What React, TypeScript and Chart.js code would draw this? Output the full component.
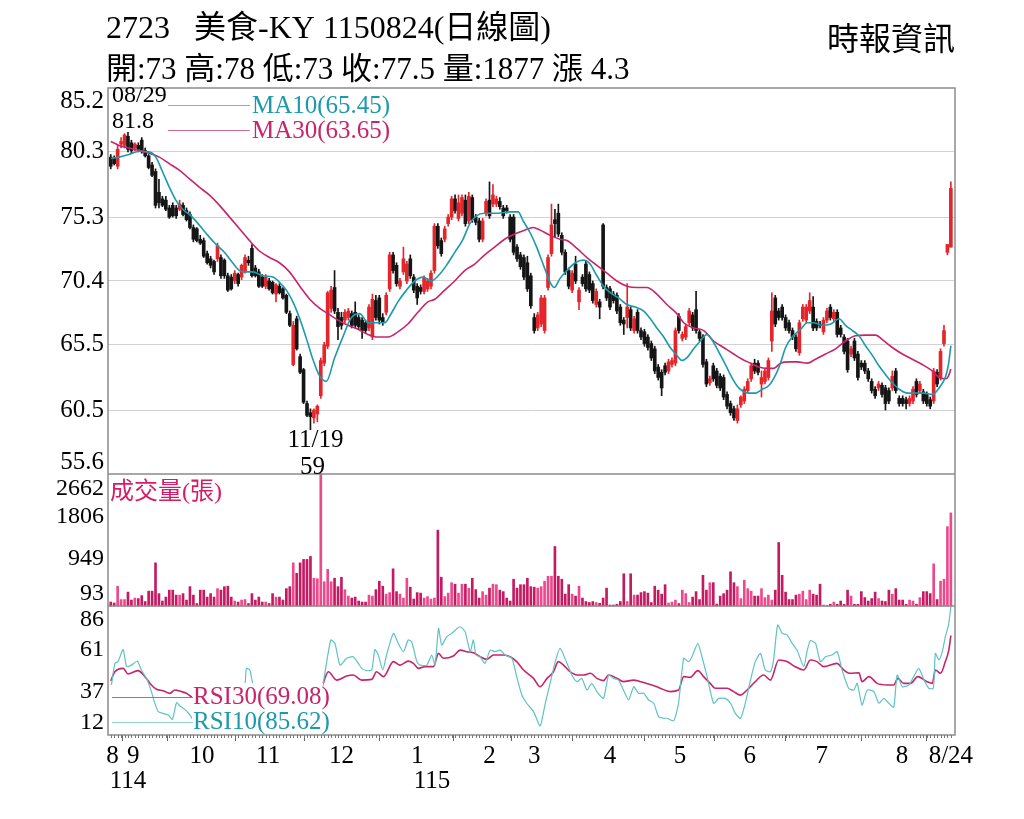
import { useEffect, useRef } from 'react';
import { Chart, registerables } from 'chart.js';

Chart.register(...registerables);

const TITLE = '2723   美食-KY 1150824(日線圖)';
const SUBTITLE = '開:73 高:78 低:73 收:77.5 量:1877 漲 4.3';
const SOURCE = '時報資訊';

const PRICE_TICKS = [85.2, 80.3, 75.3, 70.4, 65.5, 60.5, 55.6];
const VOLUME_TICKS = [2662, 1806, 949, 93];
const RSI_TICKS = [86, 61, 37, 12];

const MONTH_TICKS = [0.5, 6.5, 26.5, 45.7, 67, 89, 110, 123, 145, 165.3, 185.6, 206.5, 229.8, 244];
const MONTH_LABELS = ['8', '9', '10', '11', '12', '1', '2', '3', '4', '5', '6', '7', '8', '8/24'];
const YEAR_TICKS = [-0.3, 88];
const YEAR_LABELS = ['114', '115'];

const HIGH_MARK = { idx: 5, date: '08/29', value: 81.8 };
const LOW_MARK = { idx: 58, date: '11/19', value: 59 };

const MA10_LABEL = 'MA10(65.45)';
const MA30_LABEL = 'MA30(63.65)';
const VOLUME_LABEL = '成交量(張)';
const RSI30_LABEL = 'RSI30(69.08)';
const RSI10_LABEL = 'RSI10(85.62)';

// [open, high, low, close]
const OHLC: [number, number, number, number][] = [
  [79.9, 80.1, 79.0, 79.2], [79.8, 80.0, 79.3, 79.4], [79.2, 80.8, 79.0, 80.5], [80.9, 81.4, 80.6, 81.1], [80.8, 81.7, 80.6, 81.6],
  [81.5, 81.8, 80.3, 80.5], [81.0, 81.2, 80.2, 80.4], [80.6, 81.0, 80.4, 80.9], [80.8, 81.0, 80.3, 80.5], [81.2, 81.4, 80.2, 80.3],
  [80.4, 80.6, 79.9, 80.0], [80.0, 80.1, 79.0, 79.1], [79.3, 79.5, 78.4, 78.5], [78.8, 79.0, 76.0, 76.2], [77.2, 78.2, 76.0, 76.4],
  [76.7, 76.9, 76.1, 76.2], [76.6, 76.9, 75.8, 75.9], [76.0, 76.2, 75.2, 75.3], [76.2, 76.4, 75.3, 75.4], [76.0, 76.2, 75.2, 75.4],
  [75.9, 76.6, 75.8, 76.3], [76.2, 76.4, 75.4, 75.5], [75.8, 76.0, 75.0, 75.1], [75.5, 75.7, 74.4, 74.5], [74.5, 74.7, 73.4, 73.6],
  [74.4, 74.5, 73.4, 73.5], [73.6, 73.9, 73.2, 73.3], [73.5, 73.7, 72.2, 72.3], [72.5, 72.7, 71.7, 71.8], [72.1, 72.3, 71.4, 71.6],
  [71.9, 72.0, 70.9, 71.1], [72.1, 73.3, 71.9, 73.1], [72.2, 72.4, 70.6, 70.8], [72.0, 72.1, 70.6, 70.8], [70.8, 71.0, 69.6, 69.7],
  [70.7, 70.9, 69.7, 69.8], [70.4, 71.2, 70.2, 71.0], [70.9, 71.0, 70.0, 70.2], [70.7, 71.7, 70.5, 71.6], [71.1, 72.4, 71.0, 72.2],
  [72.0, 72.3, 71.6, 71.8], [72.9, 73.2, 70.7, 70.8], [71.4, 71.6, 70.7, 70.8], [71.1, 71.3, 69.9, 70.0], [70.7, 70.9, 69.9, 70.0],
  [70.0, 70.9, 69.8, 70.7], [70.4, 70.6, 69.7, 69.8], [70.3, 70.4, 69.4, 69.5], [69.4, 70.2, 68.8, 70.1], [70.0, 70.2, 69.4, 69.5],
  [69.8, 69.9, 69.0, 69.1], [69.3, 69.4, 67.9, 68.0], [67.9, 68.1, 66.9, 67.0], [64.0, 67.3, 63.9, 67.0], [67.5, 67.7, 65.1, 65.2],
  [64.6, 64.8, 63.3, 63.4], [63.6, 63.7, 61.0, 61.1], [61.0, 61.2, 60.0, 60.1], [60.3, 60.6, 59.0, 60.0], [59.9, 60.6, 59.5, 60.5],
  [60.2, 60.9, 59.6, 60.8], [61.6, 64.5, 61.4, 64.3], [64.1, 65.7, 63.9, 65.5], [65.4, 69.6, 65.2, 69.5], [68.3, 70.0, 68.0, 69.7],
  [69.9, 71.2, 67.9, 68.1], [68.0, 68.3, 65.9, 66.9], [67.6, 68.0, 66.7, 67.0], [67.4, 68.2, 67.2, 68.0], [67.6, 68.3, 67.4, 68.1],
  [67.9, 68.1, 66.8, 67.0], [68.0, 68.8, 66.8, 67.0], [67.6, 67.8, 66.7, 66.9], [67.4, 67.6, 66.0, 66.6], [67.2, 67.4, 66.4, 66.6],
  [66.8, 68.6, 66.6, 68.4], [66.1, 69.4, 65.9, 69.0], [68.9, 69.3, 67.4, 67.6], [69.1, 69.3, 67.1, 67.4], [67.6, 67.9, 67.0, 67.2],
  [68.0, 69.5, 67.8, 69.3], [69.8, 72.6, 69.6, 72.4], [72.4, 72.6, 71.0, 71.2], [71.6, 71.8, 70.0, 70.2], [70.0, 70.6, 69.8, 70.4],
  [71.1, 73.0, 70.9, 72.1], [70.4, 71.9, 70.2, 71.7], [72.1, 72.4, 70.6, 70.8], [70.7, 70.9, 69.5, 69.7], [70.0, 70.2, 68.6, 69.1],
  [69.9, 70.1, 69.4, 69.6], [69.6, 70.8, 69.4, 70.6], [69.8, 70.6, 69.6, 70.4], [70.0, 71.2, 69.8, 71.0], [71.2, 74.8, 71.0, 74.6],
  [74.6, 74.8, 72.9, 73.1], [73.5, 73.7, 72.3, 72.5], [73.6, 74.6, 73.4, 74.4], [74.8, 75.5, 74.6, 75.3], [75.3, 76.9, 75.1, 76.7],
  [76.7, 77.0, 75.6, 75.8], [75.2, 77.0, 75.0, 76.4], [75.6, 77.0, 75.4, 76.8], [76.6, 77.0, 74.6, 74.8], [75.0, 77.2, 74.8, 76.9],
  [76.8, 77.0, 74.9, 75.1], [75.3, 75.5, 74.7, 74.9], [75.0, 75.2, 73.4, 73.6], [73.6, 75.2, 73.4, 75.0], [75.6, 76.7, 75.4, 76.5],
  [76.6, 78.0, 75.2, 75.4], [76.3, 77.8, 76.1, 77.0], [76.3, 76.9, 76.1, 76.7], [76.5, 76.8, 75.9, 76.1], [76.0, 76.2, 75.2, 75.4],
  [76.0, 76.2, 75.6, 75.8], [75.3, 75.5, 73.4, 73.6], [75.3, 75.5, 72.4, 72.6], [73.0, 73.2, 71.9, 72.1], [72.4, 72.6, 71.3, 71.5],
  [72.2, 72.4, 70.5, 70.7], [71.8, 72.3, 69.6, 69.8], [70.8, 71.0, 68.3, 68.5], [67.6, 67.9, 66.4, 66.6], [66.8, 68.0, 66.6, 67.8],
  [67.1, 69.3, 66.9, 69.1], [66.6, 69.3, 66.4, 69.1], [69.9, 72.4, 69.7, 72.2], [72.5, 76.3, 72.3, 74.7], [75.1, 75.9, 73.8, 74.8],
  [75.6, 76.3, 73.8, 74.0], [73.9, 74.1, 72.4, 72.6], [72.6, 72.8, 70.9, 71.1], [71.2, 71.4, 69.8, 70.0], [69.7, 71.2, 69.5, 71.0],
  [71.7, 72.3, 70.2, 70.4], [68.8, 69.9, 68.2, 69.7], [70.7, 70.9, 70.0, 70.2], [71.7, 71.9, 69.6, 69.8], [70.9, 71.1, 69.5, 69.7],
  [70.2, 70.4, 68.7, 68.9], [68.6, 69.8, 68.4, 69.6], [68.8, 69.0, 67.5, 68.4], [74.7, 74.8, 69.8, 70.0], [69.9, 70.1, 68.9, 69.1],
  [69.8, 70.0, 68.2, 68.4], [69.4, 69.6, 68.7, 68.9], [69.3, 69.5, 67.9, 68.1], [68.4, 68.6, 67.0, 67.2], [67.4, 67.6, 66.3, 67.1],
  [67.6, 70.2, 66.8, 68.4], [68.2, 68.4, 66.6, 66.8], [66.6, 67.7, 66.4, 67.5], [68.0, 68.2, 66.4, 66.6], [66.6, 66.8, 65.9, 66.1],
  [66.5, 66.7, 65.4, 65.6], [66.1, 66.3, 65.1, 65.3], [65.6, 65.8, 64.3, 64.5], [65.2, 65.4, 63.3, 63.5], [63.8, 64.0, 62.8, 63.0],
  [63.4, 63.6, 61.6, 62.2], [63.9, 64.1, 63.2, 63.4], [63.5, 64.4, 63.3, 64.2], [64.0, 64.5, 63.8, 64.3], [64.1, 66.8, 63.9, 66.6],
  [67.7, 67.9, 66.4, 66.6], [66.0, 66.5, 65.8, 66.3], [66.1, 67.1, 65.9, 66.9], [67.2, 68.3, 67.0, 68.1], [67.8, 68.0, 66.6, 66.8],
  [68.2, 69.6, 66.4, 66.6], [66.5, 66.7, 65.8, 66.0], [66.1, 66.3, 63.8, 64.0], [64.2, 64.4, 62.3, 62.5], [62.6, 63.1, 62.4, 62.9],
  [63.9, 64.1, 62.7, 62.9], [63.5, 63.7, 62.2, 62.4], [63.1, 63.3, 62.0, 62.2], [63.0, 63.2, 61.3, 61.5], [61.7, 61.9, 60.6, 60.8],
  [61.0, 61.2, 60.1, 60.3], [60.6, 60.8, 59.7, 59.9], [59.7, 60.9, 59.5, 60.6], [60.9, 61.6, 60.7, 61.5], [61.2, 62.3, 61.0, 62.1],
  [62.0, 62.9, 61.8, 62.7], [62.9, 64.1, 62.7, 63.9], [64.1, 64.4, 63.3, 63.5], [64.1, 64.3, 63.2, 63.4], [62.5, 63.5, 61.5, 63.0],
  [62.7, 63.7, 62.5, 63.5], [63.0, 64.5, 62.8, 64.3], [65.8, 69.5, 65.0, 68.1], [69.1, 69.3, 66.9, 67.1], [68.1, 68.3, 67.4, 67.6],
  [68.4, 68.6, 67.4, 67.6], [67.6, 67.8, 66.6, 66.8], [67.2, 67.4, 66.4, 66.6], [66.6, 66.8, 65.9, 66.1], [66.1, 66.3, 65.0, 65.2],
  [64.9, 67.4, 64.7, 67.2], [67.5, 68.6, 67.3, 68.4], [67.4, 68.6, 67.2, 68.4], [68.1, 69.5, 67.9, 68.9], [68.4, 69.2, 66.6, 66.8],
  [67.3, 67.5, 66.6, 66.8], [67.1, 67.3, 66.8, 67.0], [66.5, 67.6, 66.3, 67.4], [67.4, 68.3, 67.2, 68.1], [68.4, 68.6, 67.4, 67.6],
  [67.5, 68.2, 67.3, 68.0], [68.0, 68.2, 66.1, 66.3], [66.8, 67.0, 66.1, 66.3], [66.1, 66.3, 64.8, 65.0], [65.8, 66.0, 63.4, 63.6],
  [64.8, 65.4, 64.6, 65.2], [65.8, 66.0, 64.3, 64.5], [64.8, 65.0, 62.8, 63.0], [64.1, 64.3, 63.6, 63.8], [64.1, 64.3, 63.3, 63.5],
  [63.5, 63.7, 62.7, 62.9], [62.7, 62.9, 61.8, 62.0], [62.1, 62.3, 61.4, 61.6], [62.2, 62.7, 62.0, 62.5], [62.4, 62.6, 61.5, 61.7],
  [62.2, 62.4, 60.5, 61.0], [62.0, 62.2, 61.0, 61.2], [62.2, 63.5, 62.0, 63.1], [63.5, 63.7, 61.8, 62.0], [61.4, 61.6, 60.8, 61.0],
  [61.4, 61.6, 60.8, 61.0], [61.3, 61.5, 60.6, 61.0], [61.0, 61.6, 60.8, 61.4], [61.2, 62.3, 61.0, 62.1], [62.7, 62.9, 61.5, 61.7],
  [62.0, 62.7, 61.8, 62.5], [61.9, 62.1, 61.0, 61.2], [61.7, 61.9, 60.8, 61.0], [61.3, 61.5, 60.6, 60.8], [61.2, 63.7, 61.0, 63.5],
  [63.4, 63.6, 62.3, 62.5], [63.0, 65.2, 62.8, 65.0], [65.6, 67.0, 65.4, 66.6], [72.6, 73.2, 72.4, 73.2], [73.0, 78.0, 73.0, 77.5],
];

const VOLUME: number[] = [
  80, 60, 400, 130, 130, 280, 120, 160, 150, 210,
  90, 300, 300, 870, 250, 100, 180, 320, 320, 220,
  220, 250, 120, 390, 220, 50, 320, 320, 180, 250,
  180, 350, 320, 390, 400, 180, 100, 80, 120, 130,
  50, 250, 120, 180, 80, 80, 50, 250, 180, 180,
  120, 350, 390, 870, 660, 870, 940, 940, 1000, 560,
  550, 2662, 490, 740, 490, 560, 390, 580, 330, 200,
  160, 180, 100, 80, 80, 220, 200, 330, 500, 400,
  240, 270, 750, 290, 240, 160, 560, 380, 140, 270,
  260, 160, 190, 140, 160, 1530, 580, 190, 260, 470,
  440, 260, 440, 440, 360, 560, 330, 160, 290, 220,
  360, 440, 430, 320, 290, 160, 100, 540, 360, 430,
  430, 560, 390, 380, 360, 390, 500, 600, 600, 1200,
  600, 540, 240, 430, 240, 200, 400, 160, 90, 70,
  90, 70, 55, 160, 360, 20, 20, 35, 90, 650,
  90, 650, 220, 220, 270, 290, 260, 70, 400, 320,
  240, 430, 60, 80, 120, 50, 320, 250, 70, 180,
  290, 130, 620, 320, 470, 470, 40, 200, 250, 320,
  690, 470, 390, 150, 520, 350, 300, 200, 200, 350,
  170, 220, 120, 320, 1280, 620, 280, 130, 130, 220,
  240, 300, 130, 320, 240, 220, 440, 20, 15, 35,
  80, 35, 100, 35, 320, 200, 35, 35, 290, 170,
  100, 150, 280, 150, 100, 90, 320, 240, 350, 120,
  120, 35, 120, 100, 35, 170, 290, 290, 250, 850,
  130, 500, 540, 1600, 1877,
];

// [candle index, value]
const MA10: [number, number][] = [
  [0, 79.8], [2.4, 79.9], [5.3, 80.1], [8.3, 80.35], [11.2, 80.3], [13.1, 79.9], [15, 78.8], [17, 77.6], [18.9, 76.6],
  [20.9, 75.9], [23.3, 75.4], [25.7, 74.7], [28.2, 73.9], [30.6, 73.2], [33, 72.6], [35.4, 71.8], [37.4, 71.2], [38.8, 71.1],
  [41.3, 71.1], [44.2, 70.8], [47.1, 70.7], [49, 70.3], [51, 69.7], [52.9, 68.8], [54.9, 67.5], [56.8, 66.0], [58.7, 64.4],
  [60.7, 63.1], [62.6, 62.7], [65, 64.5], [67.4, 66.1], [69.9, 67.6], [72.3, 67.9], [74.7, 67.2], [77.1, 67.2], [79.6, 67.2],
  [81, 67.7], [83.4, 68.8], [85.9, 69.7], [88.3, 70.4], [90.7, 70.7], [93.1, 70.4], [95.1, 70.8], [97.5, 71.6], [99.9, 72.6],
  [102.3, 73.6], [104.3, 74.8], [106.2, 75.4], [108.6, 75.6], [112.5, 75.6], [115.9, 75.7], [118.3, 75.7], [119.8, 75.0],
  [121.8, 74.1], [123.7, 73.0], [125.7, 71.6], [127.6, 70.3], [128.8, 69.9], [130.5, 70.6], [132.5, 71.2], [134.9, 71.8],
  [137.3, 72.0], [139.2, 71.7], [141.2, 70.8], [143.1, 70.0], [145.1, 69.5], [147.5, 69.1], [149.9, 68.6], [152.3, 68.4],
  [154.7, 68.1], [156.7, 67.5], [158.6, 66.8], [160.6, 66.1], [162.5, 65.3], [164.4, 64.7], [165.9, 64.3], [167.3, 64.5],
  [169.3, 65.2], [171.2, 65.8], [173.2, 66.3], [174.6, 65.9], [176.5, 65.0], [178.5, 64.0], [180.4, 63.0], [182.4, 62.2],
  [185.3, 61.8], [187.3, 61.8], [189.2, 62.1], [191.2, 62.4], [193.1, 63.2], [194.5, 64.1], [196, 65.3], [197.9, 66.1],
  [200.4, 66.7], [202.3, 67.2], [204.2, 67.2], [206.7, 67.0], [209.1, 67.1], [211.5, 67.5], [213.4, 67.0], [215.4, 66.6],
  [217.3, 66.2], [219.3, 65.4], [221.2, 64.7], [223.1, 63.9], [225.1, 63.2], [227, 62.6], [229, 62.1], [231.4, 61.8],
  [233.8, 61.8], [236.2, 61.8], [238.6, 61.7], [240.6, 62.2], [242.5, 63.1], [243.3, 64.0], [244, 65.45],
];

const MA30: [number, number][] = [
  [0, 81.1], [2.4, 80.8], [5.3, 80.6], [8.3, 80.4], [11.2, 80.2], [14.1, 79.9], [17, 79.4], [19.9, 78.9], [22.8, 78.25],
  [25.7, 77.6], [28.6, 77.0], [31.6, 76.2], [34.5, 75.3], [37.4, 74.4], [40.3, 73.5], [43.2, 72.7], [46.1, 72.2], [49, 71.8],
  [51.9, 71.1], [54.9, 70.0], [57.8, 69.0], [60.7, 68.3], [63.1, 67.9], [66, 67.4], [68.9, 67.0], [71.8, 66.7], [74.7, 66.3],
  [77.6, 66.1], [80.5, 66.1], [83.4, 66.5], [86.3, 67.1], [89.2, 68.0], [92.1, 68.8], [94.1, 69.0], [97, 69.7], [99.9, 70.4],
  [102.8, 71.2], [105.7, 71.7], [108.6, 72.4], [111.5, 73.0], [114.4, 73.6], [117.3, 74.0], [120.2, 74.3], [122.7, 74.5],
  [124.7, 74.3], [127.6, 73.9], [130.5, 73.6], [132.5, 73.5], [135.4, 72.9], [138.3, 72.2], [141.2, 71.6], [144.1, 71.0],
  [147, 70.4], [149.9, 70.0], [152.8, 69.9], [155.7, 69.9], [158.6, 69.4], [161.5, 68.6], [164.4, 67.9], [166.4, 67.2],
  [169.3, 66.8], [172.2, 66.6], [175.1, 65.8], [178, 65.3], [180.9, 64.8], [183.4, 64.4], [185.8, 64.1], [188.2, 63.8],
  [190.7, 63.7], [192.6, 63.7], [194.5, 64.1], [197, 64.2], [199.4, 64.2], [202.3, 64.1], [204.7, 64.4], [207.6, 64.8],
  [210.5, 65.2], [213.4, 65.8], [216.3, 66.2], [219.3, 66.25], [222.2, 66.25], [224.1, 65.9], [227, 65.3], [229.9, 64.8],
  [232.8, 64.4], [235.7, 64.0], [238.6, 63.5], [240.6, 63.0], [242.5, 62.9], [243.3, 63.1], [244, 63.65],
];

const RSI10: [number, number][] = [
  [0.2, 40.7], [1.2, 53.1], [2.1, 54.1], [3.6, 61.1], [4.6, 51.2], [6.0, 52.1], [7.7, 54.4], [8.9, 49.3], [10.6, 43.5],
  [11.8, 36.9], [12.8, 30.2], [13.8, 25.4], [15.2, 24.4], [16.7, 23.5], [17.9, 21.0], [19.1, 30.5], [20.1, 28.6], [21.5, 26.7],
  [23.0, 23.5], [23.9, 20.6], [26, 18], [29, 22], [32, 19], [35, 26], [37.5, 32], [39.0, 41.6], [39.4, 50.2], [40.4, 49.3],
  [41.2, 41.6], [43, 30], [46, 26], [49, 24], [52, 20], [55, 15], [58, 13], [60, 24], [61.7, 41.6], [63.9, 66.5], [65.1, 64.6],
  [66.6, 52.1], [68.5, 56.0], [70.4, 56.9], [71.9, 53.1], [72.9, 50.2], [74.3, 48.9], [75.8, 49.3], [76.7, 61.1], [77.7, 57.9],
  [79.0, 49.3], [80.1, 57.9], [82.1, 70.3], [83.5, 64.6], [85.0, 59.8], [86.4, 66.5], [87.4, 65.5], [88.9, 54.1], [89.8, 52.1],
  [91.8, 52.1], [93.2, 57.9], [94.2, 52.1], [95.2, 73.2], [96.1, 63.6], [97.6, 68.4], [99.0, 70.3], [100.3, 72.6], [101.5, 74.1],
  [102.9, 71.3], [104.4, 59.8], [105.3, 66.5], [106.1, 57.9], [107.3, 56.9], [108.7, 53.1], [110.2, 60.7], [111.6, 59.8],
  [113.1, 60.7], [114.5, 57.9], [116.5, 56.0], [117.9, 45.5], [119.4, 34.9], [120.8, 30.2], [122.8, 25.4], [124.7, 17.2],
  [126.2, 30.2], [127.6, 41.6], [129.1, 54.1], [130.5, 61.7], [132.5, 53.1], [133.9, 46.4], [135.4, 42.6], [136.8, 44.5],
  [138.3, 37.8], [139.7, 41.6], [141.2, 36.9], [143.1, 33.0], [144.6, 46.4], [146.0, 44.5], [147.5, 43.5], [148.9, 37.8],
  [150.4, 32.1], [151.9, 39.7], [153.3, 35.9], [154.8, 35.9], [156.2, 32.1], [157.7, 30.2], [159.1, 22.5], [160.6, 21.6],
  [161.5, 21.6], [163.5, 20.2], [164.9, 30.2], [166.4, 56.0], [167.8, 54.1], [168.8, 56.9], [170.5, 64.6], [171.7, 56.9],
  [173.2, 45.5], [175.1, 30.2], [176.6, 33.0], [178.5, 33.0], [180.0, 30.2], [181.4, 24.4], [182.9, 21.6], [184.3, 30.2],
  [185.8, 43.5], [187.2, 54.1], [188.7, 58.8], [190.1, 49.3], [191.6, 48.3], [192.5, 55.0], [193.7, 75.1], [195.0, 70.3],
  [196.4, 69.4], [197.9, 64.6], [199.3, 60.7], [201.3, 51.2], [202.2, 59.8], [203.2, 66.1], [204.7, 64.6], [206.1, 54.1],
  [207.6, 56.9], [209.5, 57.9], [211.0, 59.8], [212.4, 49.3], [214.3, 38.8], [215.8, 37.8], [216.8, 41.6], [218.2, 29.2],
  [219.7, 37.8], [221.6, 36.9], [223.1, 30.2], [224.5, 33.0], [226.0, 30.2], [227.4, 27.9], [228.4, 46.4], [229.9, 39.7],
  [231.8, 40.7], [233.2, 45.5], [234.7, 50.2], [236.2, 43.5], [237.6, 38.8], [238.9, 38.8], [239.5, 58.8], [240.5, 55.0],
  [241.5, 59.8], [242.4, 68.4], [243.3, 75.0], [244, 85.62],
];

const RSI30: [number, number][] = [
  [0, 43.0], [1.2, 48.3], [3.6, 50.2], [5.0, 47.0], [7.9, 48.9], [9.9, 45.5], [11.8, 40.7], [13.3, 38.2], [15.2, 37.4],
  [17.2, 35.9], [18.6, 37.8], [20.5, 36.9], [22.0, 35.9], [23.4, 34.0], [26, 33], [30, 32], [34, 31], [38, 34], [40, 37],
  [43, 34], [47, 32], [51, 30], [55, 27], [58, 25], [60, 32], [61.7, 41.6], [63.2, 48.3], [65.6, 43.5], [68.5, 45.8],
  [70.4, 46.4], [72.9, 43.5], [75.8, 43.9], [77.2, 48.3], [79.2, 45.5], [82.1, 54.1], [84.0, 52.1], [86.4, 54.4], [87.9, 53.1],
  [89.4, 50.2], [91.3, 51.2], [93.7, 51.2], [95.2, 58.8], [96.6, 56.0], [99.5, 57.3], [101.5, 60.7], [103.4, 59.8],
  [105.3, 59.2], [107.3, 56.9], [109.2, 55.4], [111.2, 57.9], [114.1, 57.9], [116.0, 56.9], [117.9, 54.1], [119.9, 49.3],
  [122.8, 44.5], [124.7, 39.7], [126.7, 44.5], [128.6, 48.3], [130.0, 54.1], [131.5, 52.1], [133.4, 48.3], [135.4, 46.4],
  [137.3, 46.4], [139.3, 47.4], [141.2, 44.5], [143.1, 43.2], [144.6, 46.4], [147.0, 44.5], [148.9, 42.6], [151.9, 43.5],
  [153.8, 42.6], [155.7, 41.6], [158.6, 39.7], [159.6, 38.8], [162.5, 36.9], [164.9, 37.8], [166.4, 45.5], [168.3, 45.1],
  [170.5, 48.9], [172.2, 45.5], [174.1, 41.6], [175.6, 38.8], [179.0, 38.8], [180.9, 36.9], [182.9, 34.9], [184.8, 37.8],
  [187.2, 42.6], [189.6, 46.4], [191.6, 43.5], [194.0, 55.0], [196.4, 54.1], [198.8, 51.2], [201.3, 49.3], [203.2, 55.0],
  [205.1, 54.1], [207.1, 51.2], [210.9, 53.1], [212.9, 49.3], [214.8, 47.4], [217.3, 47.7], [218.2, 42.6], [220.2, 45.5],
  [222.6, 41.6], [225.5, 40.7], [227.4, 40.7], [228.6, 44.5], [230.3, 41.6], [232.3, 41.6], [234.4, 45.5], [237.1, 42.6],
  [238.6, 41.6], [239.5, 49.3], [241.0, 47.4], [242.4, 54.1], [243.4, 60.7], [244, 69.08],
];

// ---- layout (pixels) ----
const W = 1024;
const H = 819;
const PLOT_LEFT = 108;
const PLOT_RIGHT = 955;
const PLOT_TOP = 88;
const PLOT_BOTTOM = 735;
const PRICE_BOTTOM = 474;
const VOLUME_BOTTOM = 606;

const FONT = '"Liberation Serif", "DejaVu Serif", "Noto Sans CJK TC", serif';
const TEAL = '#1c9aac';
const TEAL_LIGHT = '#5fc2c4';
const MAGENTA = '#c8246a';
const RED = '#e4262c';
const BLACK = '#151515';
const VOL_UP = '#ec4a8c';
const VOL_DOWN = '#c41a62';

const plotH = PLOT_BOTTOM - PLOT_TOP;
const fPrice = (PRICE_BOTTOM - PLOT_TOP) / plotH;
const fVol = (VOLUME_BOTTOM - PLOT_TOP) / plotH;
const P_MAX = PRICE_TICKS[0];
const P_MIN_VIS = PRICE_TICKS[PRICE_TICKS.length - 1];
const P_MIN = P_MAX - (P_MAX - P_MIN_VIS) / fPrice;
const volPerFrac = VOLUME_TICKS[0] / (fVol - fPrice);
const V_MAX = fVol * volPerFrac;
const V_MIN = -(1 - fVol) * volPerFrac;
const rsiPerFrac = (RSI_TICKS[0] - RSI_TICKS[RSI_TICKS.length - 1]) / (1 - fVol);
const R_MIN = RSI_TICKS[RSI_TICKS.length - 1];
const R_MAX = R_MIN + rsiPerFrac;

const overlay = {
  id: 'overlay',
  afterDatasetsDraw(chart: any) {
    const ctx: CanvasRenderingContext2D = chart.ctx;
    const xs = chart.scales.x;
    const ys = chart.scales.y;
    const yv = chart.scales.yv;
    const yr = chart.scales.yr;
    const { left, right, top, bottom } = chart.chartArea;
    ctx.save();

    // RSI legend box (covers lines)
    ctx.fillStyle = '#ffffff';
    ctx.fillRect(192, 683, 131, bottom - 683 - 1);

    // frame and separators
    const pb = ys.getPixelForValue(P_MIN_VIS);
    const vb = yv.getPixelForValue(0);
    ctx.strokeStyle = '#8c8c8c';
    ctx.lineWidth = 1.5;
    ctx.strokeRect(left, top, right - left, bottom - top);
    ctx.beginPath();
    ctx.moveTo(left, pb);
    ctx.lineTo(right, pb);
    ctx.moveTo(left, vb);
    ctx.lineTo(right, vb);
    ctx.stroke();

    // minor ticks on x axis
    ctx.strokeStyle = '#777';
    ctx.lineWidth = 1;
    ctx.beginPath();
    for (let i = 0; i < OHLC.length; i++) {
      const x = Math.round(xs.getPixelForValue(i)) + 0.5;
      ctx.moveTo(x, bottom);
      ctx.lineTo(x, bottom + 3);
    }
    ctx.stroke();

    // y labels
    ctx.fillStyle = '#000';
    ctx.textAlign = 'right';
    ctx.textBaseline = 'middle';
    ctx.font = `25px ${FONT}`;
    const clamp = (v: number, a: number, b: number) => Math.max(a, Math.min(b, v));
    PRICE_TICKS.forEach((t) => {
      const y = clamp(ys.getPixelForValue(t), top + 13, pb - 12);
      ctx.fillText(t.toFixed(1), left - 4, y);
    });
    ctx.font = `24px ${FONT}`;
    VOLUME_TICKS.forEach((t) => {
      const y = clamp(yv.getPixelForValue(t), pb + 15, vb - 12);
      ctx.fillText(String(t), left - 4, y);
    });
    RSI_TICKS.forEach((t) => {
      const y = clamp(yr.getPixelForValue(t), vb + 14, bottom - 12);
      ctx.fillText(String(t), left - 4, y);
    });

    // year labels
    ctx.textAlign = 'left';
    ctx.font = `25px ${FONT}`;
    YEAR_TICKS.forEach((v, i) => {
      ctx.fillText(YEAR_LABELS[i], xs.getPixelForValue(v), 781);
    });

    // high / low annotations
    ctx.font = `24px ${FONT}`;
    const hx = xs.getPixelForValue(HIGH_MARK.idx) - 16;
    const hy = ys.getPixelForValue(HIGH_MARK.value);
    ctx.fillText(HIGH_MARK.date, hx, hy - 37);
    ctx.fillText(String(HIGH_MARK.value), hx, hy - 11);
    ctx.textAlign = 'center';
    const lx = xs.getPixelForValue(LOW_MARK.idx) + 5;
    const ly = ys.getPixelForValue(LOW_MARK.value);
    ctx.font = `25px ${FONT}`;
    ctx.fillText(LOW_MARK.date, lx, ly + 11);
    ctx.fillText(String(LOW_MARK.value), lx - 3, ly + 38);

    // MA legend
    ctx.lineWidth = 1;
    ctx.strokeStyle = TEAL_LIGHT;
    ctx.beginPath();
    ctx.moveTo(168, 105.5);
    ctx.lineTo(250, 105.5);
    ctx.stroke();
    ctx.strokeStyle = '#d06a94';
    ctx.beginPath();
    ctx.moveTo(168, 130.5);
    ctx.lineTo(250, 130.5);
    ctx.stroke();
    ctx.textAlign = 'left';
    ctx.font = `25px ${FONT}`;
    ctx.fillStyle = TEAL;
    ctx.fillText(MA10_LABEL, 252, 106);
    ctx.fillStyle = MAGENTA;
    ctx.fillText(MA30_LABEL, 252, 131);

    // volume label
    ctx.fillStyle = '#d81b66';
    ctx.font = `24px ${FONT}`;
    ctx.fillText(VOLUME_LABEL, 110, 493);

    // RSI legend
    ctx.strokeStyle = '#d45a8c';
    ctx.beginPath();
    ctx.moveTo(112, 697.5);
    ctx.lineTo(193, 697.5);
    ctx.stroke();
    ctx.strokeStyle = '#8fd3d3';
    ctx.beginPath();
    ctx.moveTo(112, 722.5);
    ctx.lineTo(193, 722.5);
    ctx.stroke();
    ctx.font = `25px ${FONT}`;
    ctx.fillStyle = MAGENTA;
    ctx.fillText(RSI30_LABEL, 193, 697);
    ctx.fillStyle = TEAL;
    ctx.fillText(RSI10_LABEL, 193, 722);

    // titles
    ctx.fillStyle = '#000';
    ctx.textBaseline = 'alphabetic';
    ctx.font = `32px ${FONT}`;
    ctx.fillText(TITLE, 106, 38);
    ctx.font = `31px ${FONT}`;
    ctx.fillText(SUBTITLE, 106, 79);
    ctx.textAlign = 'right';
    ctx.font = `32px ${FONT}`;
    ctx.fillText(SOURCE, 955, 50);

    ctx.restore();
  },
};

export default function App() {
  const ref = useRef<HTMLCanvasElement | null>(null);

  useEffect(() => {
    document.body.style.margin = '0';
    const canvas = ref.current;
    if (!canvas) return;
    const up = OHLC.map((c) => c[3] >= c[0]);
    const candleColors = up.map((u) => (u ? RED : BLACK));
    const volColors = up.map((u) => (u ? VOL_UP : VOL_DOWN));

    const chart = new Chart(canvas, {
      type: 'bar',
      data: {
        datasets: [
          {
            type: 'line',
            data: MA10.map(([x, y]) => ({ x, y })),
            borderColor: TEAL,
            borderWidth: 1.6,
            pointRadius: 0,
            cubicInterpolationMode: 'monotone',
            yAxisID: 'y',
            order: 1,
          } as any,
          {
            type: 'line',
            data: MA30.map(([x, y]) => ({ x, y })),
            borderColor: MAGENTA,
            borderWidth: 1.6,
            pointRadius: 0,
            cubicInterpolationMode: 'monotone',
            yAxisID: 'y',
            order: 1,
          } as any,
          {
            type: 'line',
            data: RSI10.map(([x, y]) => ({ x, y })),
            borderColor: TEAL_LIGHT,
            borderWidth: 1.2,
            pointRadius: 0,
            tension: 0.2,
            yAxisID: 'yr',
            order: 1,
          } as any,
          {
            type: 'line',
            data: RSI30.map(([x, y]) => ({ x, y })),
            borderColor: MAGENTA,
            borderWidth: 1.6,
            pointRadius: 0,
            cubicInterpolationMode: 'monotone',
            yAxisID: 'yr',
            order: 1,
          } as any,
          {
            type: 'bar',
            data: OHLC.map((c, i) => ({ x: i, y: [c[2], c[1]] })),
            backgroundColor: candleColors,
            barThickness: 1,
            grouped: false,
            yAxisID: 'y',
            order: 3,
          } as any,
          {
            type: 'bar',
            data: OHLC.map((c, i) => ({ x: i, y: [c[0], c[3]] })),
            backgroundColor: candleColors,
            barThickness: 3,
            minBarLength: 1,
            grouped: false,
            yAxisID: 'y',
            order: 2,
          } as any,
          {
            type: 'bar',
            data: VOLUME.map((v, i) => ({ x: i, y: v })),
            backgroundColor: volColors,
            barThickness: 2,
            grouped: false,
            yAxisID: 'yv',
            order: 2,
          } as any,
        ],
      },
      options: {
        responsive: false,
        animation: false,
        devicePixelRatio: 1,
        layout: { padding: { top: PLOT_TOP, right: W - PLOT_RIGHT, left: 0, bottom: 0 } },
        plugins: { legend: { display: false }, tooltip: { enabled: false } },
        events: [],
        scales: {
          x: {
            type: 'linear',
            min: -0.8,
            max: OHLC.length + 0.2,
            offset: false,
            afterFit: (s: any) => {
              s.height = H - PLOT_BOTTOM;
            },
            afterBuildTicks: (s: any) => {
              s.ticks = MONTH_TICKS.map((v) => ({ value: v }));
            },
            ticks: {
              autoSkip: false,
              maxRotation: 0,
              minRotation: 0,
              padding: 0,
              color: '#000',
              font: { family: FONT, size: 25 },
              callback: (_v: any, i: number) => MONTH_LABELS[i],
            },
            grid: { drawOnChartArea: false, drawTicks: true, tickLength: 6, color: '#666' },
            border: { display: false },
          },
          y: {
            type: 'linear',
            position: 'left',
            min: P_MIN,
            max: P_MAX,
            afterFit: (s: any) => {
              s.width = PLOT_LEFT;
            },
            afterBuildTicks: (s: any) => {
              s.ticks = PRICE_TICKS.slice(1, -1).map((v) => ({ value: v }));
            },
            ticks: { display: false },
            grid: { color: '#d2d2d2', lineWidth: 1, drawTicks: false },
            border: { display: false },
          },
          yv: { type: 'linear', display: false, min: V_MIN, max: V_MAX },
          yr: { type: 'linear', display: false, min: R_MIN, max: R_MAX },
        },
      } as any,
      plugins: [overlay],
    });
    return () => chart.destroy();
  }, []);

  return (
    <div style={{ width: W, height: H, background: '#fff' }}>
      <canvas ref={ref} width={W} height={H} style={{ display: 'block', width: W, height: H }} />
    </div>
  );
}
